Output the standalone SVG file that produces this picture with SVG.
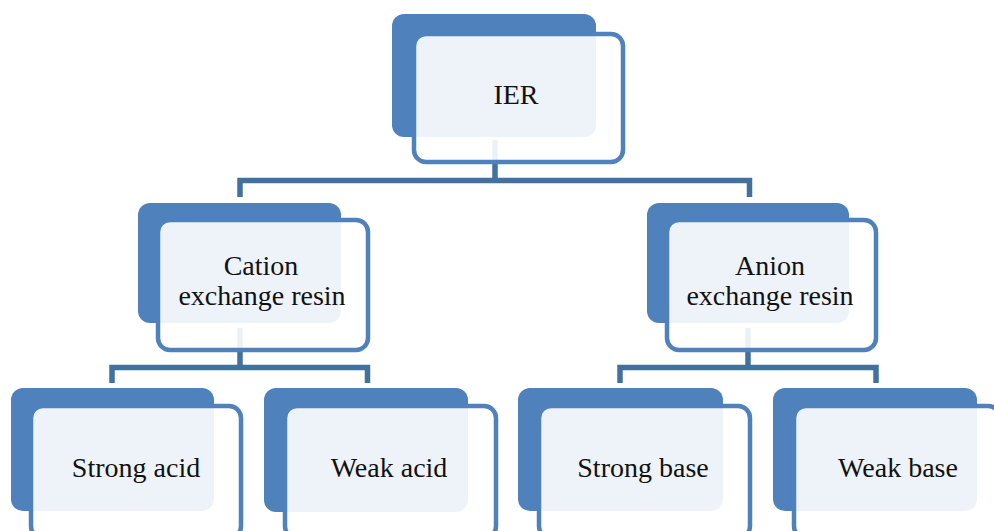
<svg xmlns="http://www.w3.org/2000/svg" width="994" height="531" viewBox="0 0 994 531">
<style>
.back{fill:#4F81BD}
.front{fill:#ffffff;fill-opacity:0.9;stroke:#4F81BD;stroke-width:4.5}
.lbl{font-family:'Liberation Serif','Tinos','DejaVu Serif',serif;font-size:28px;fill:#111;text-anchor:middle}
.conn{fill:none;stroke:#41719C;stroke-width:5.5;stroke-linejoin:miter}
</style>
<rect width="994" height="531" fill="#ffffff"/>
<g id="connectors">
<path class="conn" d="M495,140 V180.5"/>
<path class="conn" d="M240,197 V180.5 H749.5 V197"/>
<path class="conn" d="M240,328 V367.5"/>
<path class="conn" d="M112,383 V367.5 H367.5 V383"/>
<path class="conn" d="M748,328 V367.5"/>
<path class="conn" d="M620,383 V367.5 H876 V383"/>
</g>
<g id="node-ier">
<rect class="back" x="392" y="14" width="204" height="123" rx="12"/>
<rect class="front" x="414" y="34" width="209" height="128" rx="12"/>
<text class="lbl" x="516" y="104">IER</text>
</g>
<g id="node-cation">
<rect class="back" x="138" y="203" width="203" height="120" rx="12"/>
<rect class="front" x="158" y="220" width="210" height="130" rx="12"/>
<text class="lbl" x="261" y="275">Cation</text>
<text class="lbl" x="262" y="305">exchange resin</text>
</g>
<g id="node-anion">
<rect class="back" x="647" y="203" width="202" height="120" rx="12"/>
<rect class="front" x="667" y="220" width="209" height="130" rx="12"/>
<text class="lbl" x="770" y="275">Anion</text>
<text class="lbl" x="770" y="305">exchange resin</text>
</g>
<g id="node-strong-acid">
<rect class="back" x="11" y="388" width="203" height="123" rx="12"/>
<rect class="front" x="31" y="406" width="210" height="132" rx="12"/>
<text class="lbl" x="136" y="477">Strong acid</text>
</g>
<g id="node-weak-acid">
<rect class="back" x="264" y="388" width="204" height="124" rx="12"/>
<rect class="front" x="285" y="406" width="211" height="132" rx="12"/>
<text class="lbl" x="389" y="477">Weak acid</text>
</g>
<g id="node-strong-base">
<rect class="back" x="518" y="388" width="205" height="123" rx="12"/>
<rect class="front" x="539" y="406" width="211" height="132" rx="12"/>
<text class="lbl" x="643" y="477">Strong base</text>
</g>
<g id="node-weak-base">
<rect class="back" x="773" y="388" width="204" height="123" rx="12"/>
<rect class="front" x="794" y="406" width="206" height="132" rx="12"/>
<text class="lbl" x="898" y="477">Weak base</text>
</g>
</svg>
